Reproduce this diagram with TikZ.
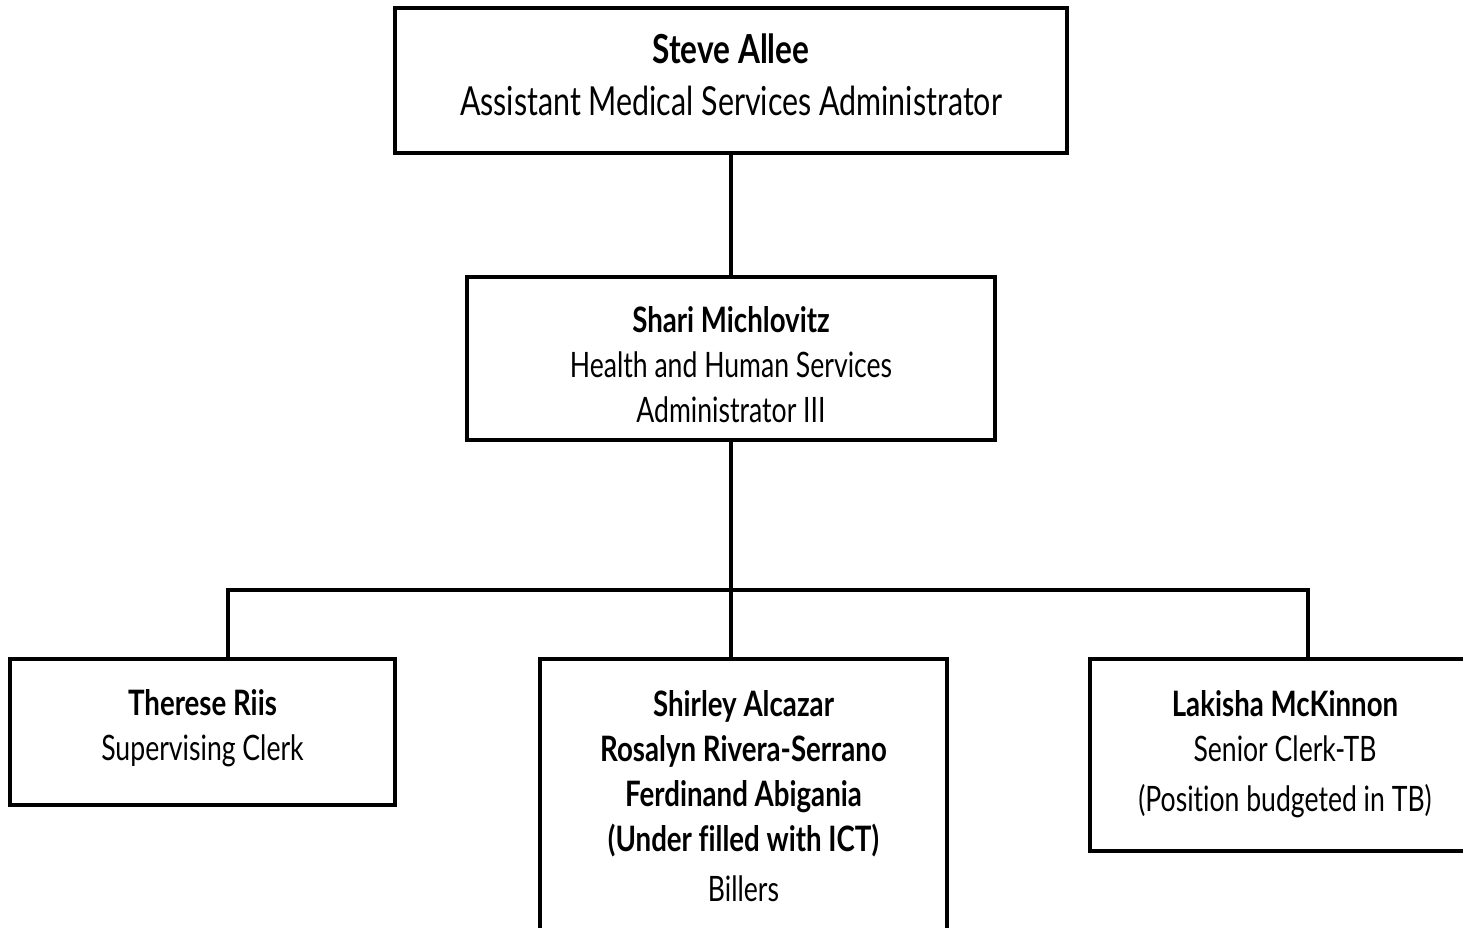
\documentclass[tikz,border=0pt]{standalone}
\usepackage{fontspec}
\usetikzlibrary{calc}
\setmainfont{Lato}[FakeStretch=0.76, Ligatures=NoCommon, BoldFeatures={FakeStretch=0.79}]
\begin{document}
\begin{tikzpicture}[x=1pt,y=-1pt,
  box/.style={draw=black, line width=3.2pt, fill=white, inner sep=0pt},
  label/.style={align=center, inner sep=0pt, font=\fontsize{35}{45}\selectfont},
  toplabel/.style={label, font=\fontsize{40}{52}\selectfont},
  link/.style={line width=3.2pt}]
\useasboundingbox (0,0) rectangle (1463,928);
\clip (0,0) rectangle (1463,928);

% management chain
\node[box, minimum width=672pt, minimum height=145pt] (allee) at (731,80.5) {};
\node[toplabel] (allee-text) at ($(allee.center)+(0,-6)$)
  {\textbf{Steve Allee}\\Assistant Medical Services Administrator};
\node[box, minimum width=528pt, minimum height=163pt] (michlovitz) at (731,358.5) {};
\node[label] (michlovitz-text) at ($(michlovitz.center)+(0,6)$)
  {\textbf{Shari Michlovitz}\\Health and Human Services\\Administrator III};

% staff
\node[box, minimum width=385pt, minimum height=146pt] (riis) at (202.5,732) {};
\node[label] (riis-text) at ($(riis.center)+(0,-4)$)
  {\textbf{Therese Riis}\\Supervising Clerk};
\node[box, minimum width=407pt, minimum height=274pt] (billers) at (743.5,796) {};
\node[label] (billers-text) at (billers.center)
  {\textbf{Shirley Alcazar}\\\textbf{Rosalyn Rivera-Serrano}\\\textbf{Ferdinand Abigania}\\\textbf{(Under filled with ICT)}\\[5pt]Billers};
\node[box, minimum width=390pt, minimum height=192pt] (mckinnon) at (1285,755) {};
\node[label] (mckinnon-text) at ($(mckinnon.center)+(0,-0.5)$)
  {\textbf{Lakisha McKinnon}\\Senior Clerk-TB\\[5pt](Position budgeted in TB)};

% reporting lines
\coordinate (bus) at (731,590);
\draw[link] (allee.south) -- (michlovitz.north);
\draw[link] (michlovitz.south) -- (billers.north -| michlovitz.south);
\draw[link] (riis.north -| 228,0) |- (bus) -| (mckinnon.north -| 1308,0);
\end{tikzpicture}
\end{document}
